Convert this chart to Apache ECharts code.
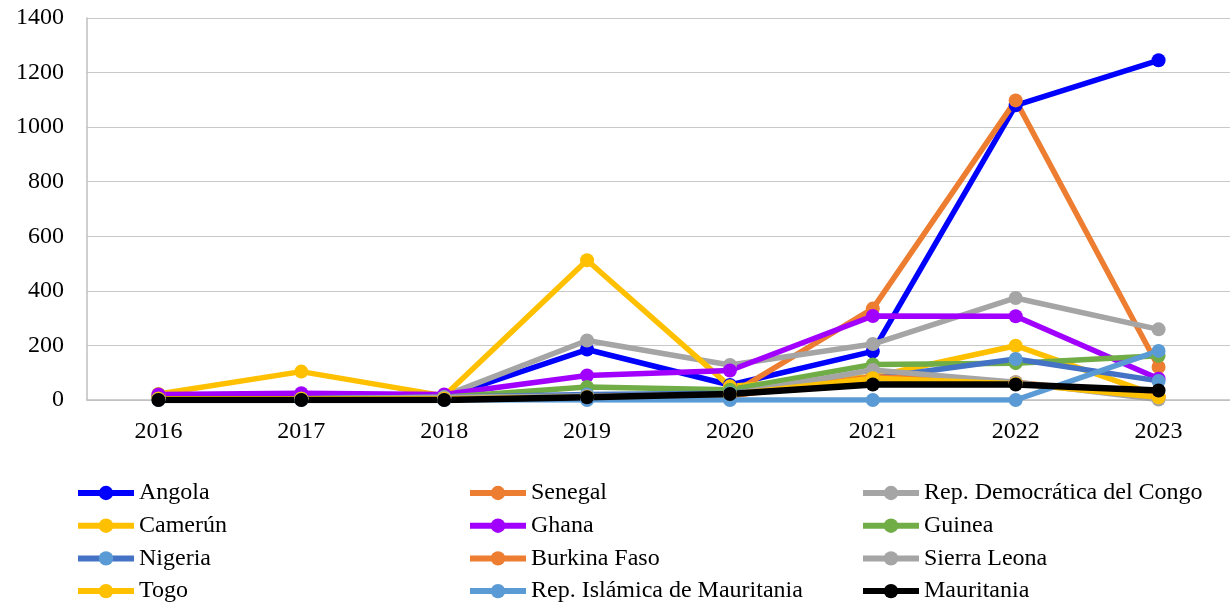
<!DOCTYPE html>
<html>
<head>
<meta charset="UTF-8">
<title>Chart</title>
<script src="https://cdn.jsdelivr.net/npm/echarts@6/dist/echarts.min.js"></script>
<style>
    html, body { margin: 0; padding: 0; background: #fff; }
    #chart { width: 1230px; height: 605px; }
</style>
</head>
<body>
<div id="chart"></div>
<script type="text/javascript">
    // categorias y valores
    var years = ['2016', '2017', '2018', '2019', '2020', '2021', '2022', '2023']

    var angola = [10, 10, 10, 185, 55, 178, 1080, 1245]
    var senegal = [15, 15, 15, 15, 20, 335, 1098, 121]
    var congo = [15, 15, 15, 218, 128, 205, 374, 259]
    var camerun = [22, 104, 15, 512, 50, 85, 199, 15]
    var ghana = [20, 25, 20, 90, 108, 308, 307, 78]
    var guinea = [5, 5, 10, 48, 38, 130, 135, 162]
    var nigeria = [5, 5, 10, 20, 25, 80, 150, 70]
    var burkina = [5, 5, 5, 10, 15, 85, 65, 10]
    var sierraLeona = [5, 5, 10, 15, 20, 110, 65, 2]
    var togo = [5, 5, 5, 10, 20, 80, 60, 10]
    var repIslamica = [0, 0, 0, 0, 0, 0, 0, 180]
    var mauritania = [0, 0, 0, 10, 22, 57, 57, 35]

    // orden de la leyenda, fila por fila (3 columnas)
    var legendNames = [
        'Angola', 'Senegal', 'Rep. Democrática del Congo',
        'Camerún', 'Ghana', 'Guinea',
        'Nigeria', 'Burkina Faso', 'Sierra Leona',
        'Togo', 'Rep. Islámica de Mauritania', 'Mauritania'
    ]

    var font = 'Liberation Serif, Times New Roman, serif'

    function linea(name, data, color, markerColor, width) {
        return {
            name: name,
            type: 'line',
            data: data,
            symbol: 'circle',
            symbolSize: 14,
            color: color,
            lineStyle: { color: color, width: width || 5.5 },
            itemStyle: { color: markerColor || color },
            emphasis: { disabled: true }
        }
    }

    // una leyenda por elemento para fijar la cuadricula
    var colLeft = [75, 467, 860]
    var legends = []
    for (let i = 0; i < legendNames.length; i++) {
        let row = Math.floor(i / 3)
        let col = i % 3
        legends.push({
            left: colLeft[col],
            top: 493 + row * 32.7 - 12,
            padding: 0,
            itemWidth: 56,
            itemHeight: 18,
            data: [legendNames[i]],
            lineStyle: { width: 6 },
            textStyle: { fontFamily: font, fontSize: 24, color: '#000', lineHeight: 24 }
        })
    }

    var chart = echarts.init(document.getElementById('chart'))

    var option = {
        animation: false,
        backgroundColor: '#fff',
        grid: { left: 87, right: -2, top: 18, bottom: 205 },
        legend: legends,
        xAxis: {
            type: 'category',
            data: years,
            boundaryGap: true,
            axisLine: { lineStyle: { color: '#BFBFBF', width: 1.5 } },
            axisTick: { show: false },
            axisLabel: { fontFamily: font, fontSize: 24, color: '#000', margin: 20 }
        },
        yAxis: {
            type: 'value',
            min: 0,
            max: 1400,
            interval: 200,
            axisLine: { show: true, lineStyle: { color: '#BFBFBF', width: 1.5 } },
            axisTick: { show: false },
            splitLine: { lineStyle: { color: '#C8C8C8', width: 1.2 } },
            axisLabel: {
                fontFamily: font, fontSize: 24, color: '#000', margin: 23,
                formatter: function (v) { return String(v) }
            }
        },
        series: [
            linea('Angola', angola, '#0000FF'),
            linea('Senegal', senegal, '#ED7D31'),
            linea('Rep. Democrática del Congo', congo, '#A5A5A5'),
            linea('Camerún', camerun, '#FFC000'),
            linea('Ghana', ghana, '#A100FF'),
            linea('Guinea', guinea, '#70AD47'),
            linea('Nigeria', nigeria, '#4472C4', '#5B9BD5'),
            linea('Burkina Faso', burkina, '#ED7D31'),
            linea('Sierra Leona', sierraLeona, '#A5A5A5'),
            linea('Togo', togo, '#FFC000'),
            linea('Rep. Islámica de Mauritania', repIslamica, '#5B9BD5'),
            linea('Mauritania', mauritania, '#000000', null, 6.5)
        ]
    }

    chart.setOption(option)
</script>
</body>
</html>
